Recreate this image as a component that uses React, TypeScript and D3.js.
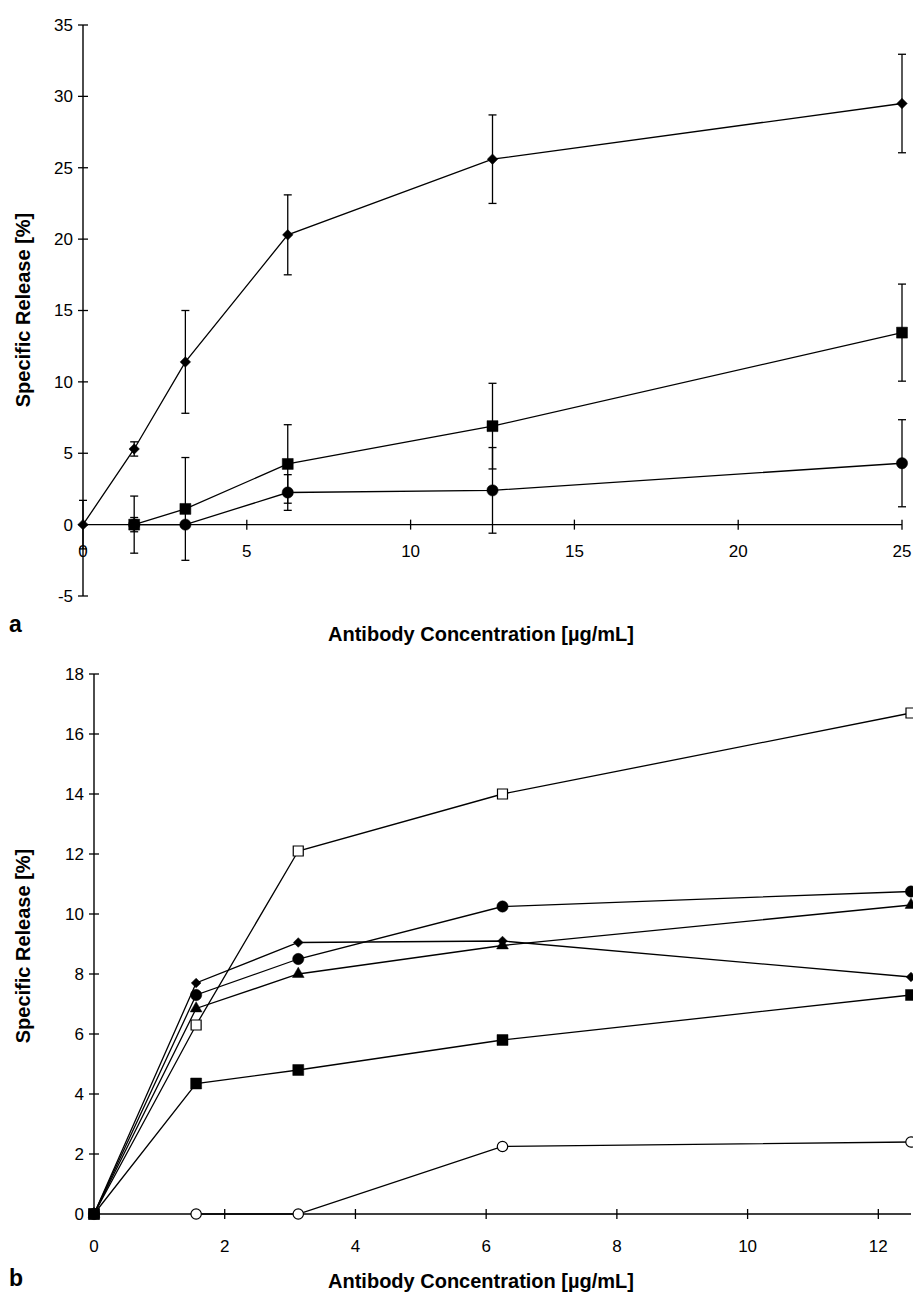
import { useEffect, useRef } from 'react';
import * as d3 from 'd3';

// panel a
const concA = [0, 1.5625, 3.125, 6.25, 12.5, 25];
const diamondA = [0, 5.3, 11.4, 20.3, 25.6, 29.5];
const diamondAErr = [1.7, 0.5, 3.6, 2.8, 3.1, 3.45];
const squareA = [null, 0, 1.1, 4.25, 6.9, 13.45];
const squareAErr = [null, 2.0, 3.6, 2.75, 3.0, 3.4];
const circleA = [null, 0, 0, 2.25, 2.4, 4.3];
const circleAErr = [null, 0.5, 0, 1.25, 3.0, 3.05];
const xTicksA = [0, 5, 10, 15, 20, 25];
const yTicksA = [-5, 0, 5, 10, 15, 20, 25, 30, 35];

// panel b
const concB = [0, 1.5625, 3.125, 6.25, 12.5];
const openSquareB = [0, 6.3, 12.1, 14.0, 16.7];
const circleB = [0, 7.3, 8.5, 10.25, 10.75];
const triangleB = [0, 6.85, 8.0, 8.95, 10.3];
const diamondB = [0, 7.7, 9.05, 9.1, 7.9];
const squareB = [0, 4.35, 4.8, 5.8, 7.3];
const openCircleB = [null, 0, 0, 2.25, 2.4];
const xTicksB = [0, 2, 4, 6, 8, 10, 12];
const yTicksB = [0, 2, 4, 6, 8, 10, 12, 14, 16, 18];

const FONT = '"Liberation Sans", Arial, Helvetica, sans-serif';

const diamondType = (d3 as any).symbolDiamond2 || d3.symbolDiamond;

const App = () => {
    const svgRef = useRef(null);

    useEffect(() => {
        const svg = d3.select(svgRef.current);
        svg.selectAll('*').remove();

        const drawPanel = (opts) => {
            const { x, y, xTicks, yTicks, series, letter, letterY, titleY, yTitleCenter, tickLabelY } = opts;
            const g = svg.append('g');
            const [x0, x1] = x.range();
            const y0 = y(0);

            // axes
            g.append('line').attr('x1', x0).attr('x2', x0).attr('y1', y(yTicks[0])).attr('y2', y(yTicks[yTicks.length - 1]))
                .attr('stroke', '#000').attr('stroke-width', 1.4);
            g.append('line').attr('x1', x0).attr('x2', x1).attr('y1', y0).attr('y2', y0)
                .attr('stroke', '#000').attr('stroke-width', 1.4);

            // y ticks
            g.selectAll('.ytick').data(yTicks).enter().append('line')
                .attr('x1', x0 - 5).attr('x2', x0 + 5)
                .attr('y1', d => y(d)).attr('y2', d => y(d))
                .attr('stroke', '#000').attr('stroke-width', 1.3);
            g.selectAll('.ylab').data(yTicks).enter().append('text')
                .attr('x', x0 - 10).attr('y', d => y(d)).attr('dy', '0.35em')
                .attr('text-anchor', 'end').attr('font-family', FONT).attr('font-size', 17)
                .text(d => d);

            // x ticks
            g.selectAll('.xtick').data(xTicks.filter(d => d !== 0)).enter().append('line')
                .attr('x1', d => x(d)).attr('x2', d => x(d))
                .attr('y1', y0 - 5).attr('y2', y0 + 5)
                .attr('stroke', '#000').attr('stroke-width', 1.3);
            g.selectAll('.xlab').data(xTicks).enter().append('text')
                .attr('x', d => x(d)).attr('y', tickLabelY).attr('dy', '0.35em')
                .attr('text-anchor', 'middle').attr('font-family', FONT).attr('font-size', 17)
                .text(d => d);

            // titles
            g.append('text').attr('x', 481).attr('y', titleY).attr('dy', '0.35em')
                .attr('text-anchor', 'middle').attr('font-family', FONT).attr('font-size', 20).attr('font-weight', 'bold')
                .text('Antibody Concentration [µg/mL]');
            g.append('text').attr('transform', `translate(23,${yTitleCenter}) rotate(-90)`).attr('dy', '0.35em')
                .attr('text-anchor', 'middle').attr('font-family', FONT).attr('font-size', 20).attr('font-weight', 'bold')
                .text('Specific Release [%]');
            g.append('text').attr('x', 9).attr('y', letterY).attr('dy', '0.35em')
                .attr('font-family', FONT).attr('font-size', 23).attr('font-weight', 'bold')
                .text(letter);

            series.forEach(s => {
                const pts = s.conc.map((c, i) => ({ c, v: s.values[i], e: s.err ? s.err[i] : null }))
                    .filter(p => p.v !== null);

                const line = d3.line().x(p => x(p.c)).y(p => y(p.v));
                g.append('path').datum(pts).attr('d', line)
                    .attr('fill', 'none').attr('stroke', '#000').attr('stroke-width', 1.3);

                // error bars
                pts.filter(p => p.e).forEach(p => {
                    const cx = x(p.c);
                    const lo = y(p.v - p.e);
                    const hi = y(p.v + p.e);
                    g.append('line').attr('x1', cx).attr('x2', cx).attr('y1', lo).attr('y2', hi)
                        .attr('stroke', '#000').attr('stroke-width', 1.3);
                    [lo, hi].forEach(yy => {
                        g.append('line').attr('x1', cx - 4).attr('x2', cx + 4).attr('y1', yy).attr('y2', yy)
                            .attr('stroke', '#000').attr('stroke-width', 1.3);
                    });
                });

                g.selectAll(null).data(pts).enter().append('path')
                    .attr('d', d3.symbol().type(s.type).size(s.size))
                    .attr('transform', p => `translate(${x(p.c)},${y(p.v)})`)
                    .attr('fill', s.open ? '#fff' : '#000')
                    .attr('stroke', '#000').attr('stroke-width', s.open ? 1.2 : 0.5);
            });
        };

        // panel a
        const xA = d3.scaleLinear().domain([0, 25]).range([83, 902]);
        const yA = d3.scaleLinear().domain([-5, 35]).range([596, 25]);
        drawPanel({
            x: xA, y: yA, xTicks: xTicksA, yTicks: yTicksA,
            letter: 'a', letterY: 624, titleY: 634, yTitleCenter: 310, tickLabelY: 551,
            series: [
                { conc: concA, values: circleA, err: circleAErr, type: d3.symbolCircle, size: 100 },
                { conc: concA, values: squareA, err: squareAErr, type: d3.symbolSquare, size: 120 },
                { conc: concA, values: diamondA, err: diamondAErr, type: diamondType, size: 70 },
            ],
        });

        // panel b
        const xB = d3.scaleLinear().domain([0, 12.5]).range([94, 911]);
        const yB = d3.scaleLinear().domain([0, 18]).range([1214, 674]);
        drawPanel({
            x: xB, y: yB, xTicks: xTicksB, yTicks: yTicksB,
            letter: 'b', letterY: 1278, titleY: 1281, yTitleCenter: 946, tickLabelY: 1246,
            series: [
                { conc: concB, values: openCircleB, type: d3.symbolCircle, size: 85, open: true },
                { conc: concB, values: openSquareB, type: d3.symbolSquare, size: 100, open: true },
                { conc: concB, values: triangleB, type: d3.symbolTriangle, size: 60 },
                { conc: concB, values: circleB, type: d3.symbolCircle, size: 100 },
                { conc: concB, values: diamondB, type: diamondType, size: 60 },
                { conc: concB, values: squareB, type: d3.symbolSquare, size: 120 },
            ],
        });
    }, []);

    return (
        <svg ref={svgRef} width={913} height={1292}
            style={{ position: 'absolute', left: 0, top: 0, background: '#fff' }} />
    );
};

export default App;
